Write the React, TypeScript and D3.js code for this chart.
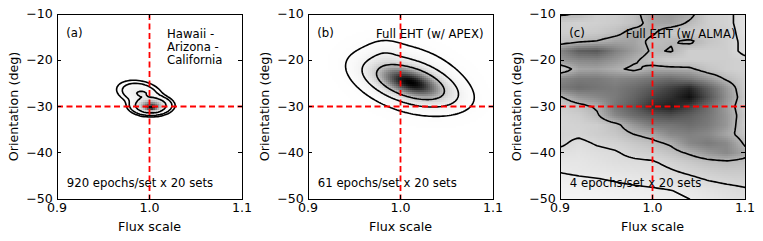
import React, { useEffect, useRef } from "react";
import * as d3 from "d3";

const WIDTH = 763;
const HEIGHT = 241;
const TOP = 14;
const SIZE = 185;
const CELL = 2;
const PAD = 3;

const xDomain = [0.9, 1.1];
const yDomain = [-50, -10];
const xTicks = [0.9, 1.0, 1.1];
const yTicks = [-10, -20, -30, -40, -50];
const refFlux = 1.0;
const refAngle = -30;

// gaussian pieces: [flux, angle, sdFlux, sdAngle, rho, amp]
const blobsA = [
  [1.0015, -29.8, 0.0095, 0.89, 0, 0.7],
  [1.002, -30.3, 0.004, 0.4, 0, 0.5],
  [0.989, -27.0, 0.012, 1.3, -0.25, 0.13],
  [0.992, -27.2, 0.0045, 0.4, 0, 0.075],
];
const levelsA = [0.016, 0.04, 0.158];

const blobsB = [
  [1.0114, -24.92, 0.02707, 2.642, -0.526, 1],
  [1.0092, -24.05, 0.03775, 4.72, -0.329, 0.35],
  [0.983, -18.5, 0.011, 1.8, 0, 0.08],
];
const levelsB = [0.1, 0.29, 0.615];

// panel (c) density, rows from -10 down to -50 deg, columns 0.90 .. 1.10
const gridCx = [0.9, 0.92, 0.94, 0.96, 0.98, 1.0, 1.02, 1.04, 1.06, 1.08, 1.1];
const gridCy = [-10, -12, -14, -16, -18, -20, -22, -24, -26, -28, -30, -32, -34, -36, -38, -40, -42, -44, -46, -48, -50];
const gridC = [
  [0.42, 0.4, 0.3, 0.3, 0.36, 0.48, 0.5, 0.44, 0.3, 0.28, 0.2],
  [0.3, 0.28, 0.29, 0.31, 0.35, 0.45, 0.46, 0.38, 0.3, 0.28, 0.2],
  [0.3, 0.3, 0.32, 0.36, 0.45, 0.42, 0.32, 0.3, 0.3, 0.3, 0.2],
  [0.34, 0.38, 0.41, 0.46, 0.46, 0.36, 0.39, 0.43, 0.34, 0.3, 0.22],
  [0.55, 0.7, 0.72, 0.58, 0.48, 0.38, 0.41, 0.3, 0.3, 0.3, 0.22],
  [0.5, 0.55, 0.56, 0.5, 0.42, 0.34, 0.3, 0.3, 0.3, 0.3, 0.28],
  [0.3, 0.45, 0.46, 0.42, 0.37, 0.45, 0.44, 0.43, 0.34, 0.3, 0.28],
  [0.55, 0.6, 0.6, 0.56, 0.58, 0.62, 0.65, 0.6, 0.5, 0.38, 0.3],
  [0.6, 0.65, 0.62, 0.6, 0.65, 0.72, 0.8, 0.88, 0.7, 0.5, 0.3],
  [0.38, 0.5, 0.55, 0.6, 0.68, 0.78, 0.85, 0.95, 0.75, 0.52, 0.32],
  [0.3, 0.35, 0.42, 0.62, 0.72, 0.85, 0.9, 0.8, 0.65, 0.48, 0.3],
  [0.28, 0.3, 0.38, 0.55, 0.65, 0.72, 0.75, 0.7, 0.62, 0.5, 0.32],
  [0.27, 0.28, 0.3, 0.36, 0.5, 0.6, 0.62, 0.65, 0.6, 0.5, 0.3],
  [0.28, 0.27, 0.3, 0.33, 0.4, 0.45, 0.55, 0.58, 0.55, 0.45, 0.33],
  [0.27, 0.22, 0.26, 0.28, 0.32, 0.36, 0.42, 0.55, 0.6, 0.55, 0.38],
  [0.22, 0.2, 0.22, 0.24, 0.28, 0.3, 0.35, 0.42, 0.5, 0.55, 0.45],
  [0.18, 0.18, 0.2, 0.22, 0.23, 0.24, 0.28, 0.32, 0.36, 0.38, 0.36],
  [0.155, 0.17, 0.18, 0.19, 0.2, 0.21, 0.24, 0.27, 0.3, 0.32, 0.32],
  [0.12, 0.13, 0.14, 0.155, 0.17, 0.18, 0.2, 0.22, 0.25, 0.27, 0.28],
  [0.1, 0.1, 0.11, 0.12, 0.13, 0.14, 0.15, 0.17, 0.2, 0.22, 0.24],
  [0.08, 0.08, 0.09, 0.1, 0.11, 0.12, 0.13, 0.15, 0.17, 0.2, 0.22],
];
const levelsC = [0.15, 0.25, 0.4];

const panelTags = ["(a)", "(b)", "(c)"];
const panelTitles = [["Hawaii -", "Arizona -", "California"], ["Full EHT (w/ APEX)"], ["Full EHT (w/ ALMA)"]];
const panelNotes = ["920 epochs/set x 20 sets", "61 epochs/set x 20 sets", "4 epochs/set x 20 sets"];

function blobSum(blobs: number[][]) {
  return (xv: number, yv: number) => {
    let s = 0;
    for (const [cx, cy, sx, sy, rho, amp] of blobs) {
      const u = (xv - cx) / sx;
      const v = (yv - cy) / sy;
      const q = (u * u - 2 * rho * u * v + v * v) / (1 - rho * rho);
      s += amp * Math.exp(-q / 2);
    }
    return s;
  };
}

const colIdx = d3.scaleLinear().domain([gridCx[0], gridCx[gridCx.length - 1]]).range([0, gridCx.length - 1]).clamp(true);
const rowIdx = d3.scaleLinear().domain([gridCy[0], gridCy[gridCy.length - 1]]).range([0, gridCy.length - 1]).clamp(true);

// bilinear read of the (c) grid
function gridSample(xv: number, yv: number) {
  const fx = colIdx(xv);
  const fy = rowIdx(yv);
  const i0 = Math.min(Math.floor(fx), gridCx.length - 2);
  const j0 = Math.min(Math.floor(fy), gridCy.length - 2);
  const tx = fx - i0;
  const ty = fy - j0;
  const top = gridC[j0][i0] * (1 - tx) + gridC[j0][i0 + 1] * tx;
  const bot = gridC[j0 + 1][i0] * (1 - tx) + gridC[j0 + 1][i0 + 1] * tx;
  return top * (1 - ty) + bot * ty;
}

const panels = [
  { left: 57, sample: blobSum(blobsA), levels: levelsA, gamma: 1, vmax: 0 },
  { left: 308, sample: blobSum(blobsB), levels: levelsB, gamma: 1.4, vmax: 0 },
  { left: 560, sample: gridSample, levels: levelsC, gamma: 1, vmax: 1 },
];

const fmtY = (v: number) => (v < 0 ? "\u2212" : "") + Math.abs(v);

function drawPanel(svg: any, p: any, k: number) {
  const x = d3.scaleLinear().domain(xDomain).range([0, SIZE]);
  const y = d3.scaleLinear().domain(yDomain).range([SIZE, 0]);
  const g = svg.append("g").attr("transform", `translate(${p.left},${TOP})`);

  const clipId = `plotclip${k}`;
  g.append("clipPath").attr("id", clipId).append("rect").attr("width", SIZE).attr("height", SIZE);

  // sample density on a fine grid (padded so contours don't close along the frame)
  const n = Math.ceil(SIZE / CELL) + 2 * PAD;
  const values: number[] = new Array(n * n);
  for (let j = 0; j < n; j++) {
    for (let i = 0; i < n; i++) {
      const px = (i - PAD + 0.5) * CELL;
      const py = (j - PAD + 0.5) * CELL;
      values[j * n + i] = p.sample(x.invert(px), y.invert(py));
    }
  }
  const vmax = p.vmax || (d3.max(values) as number);

  const plot = g.append("g").attr("clip-path", `url(#${clipId})`);
  plot.append("rect").attr("width", SIZE).attr("height", SIZE).attr("fill", "#fff");

  const cells: { i: number; j: number; t: number }[] = [];
  for (let j = PAD; j < n - PAD; j++) {
    for (let i = PAD; i < n - PAD; i++) {
      const t = Math.pow(Math.max(0, values[j * n + i] / vmax), p.gamma);
      if (t > 0.004) cells.push({ i, j, t });
    }
  }
  plot
    .append("g")
    .attr("shape-rendering", "crispEdges")
    .selectAll("rect")
    .data(cells)
    .enter()
    .append("rect")
    .attr("x", (d: any) => (d.i - PAD) * CELL)
    .attr("y", (d: any) => (d.j - PAD) * CELL)
    .attr("width", CELL + 0.4)
    .attr("height", CELL + 0.4)
    .attr("fill", (d: any) => d3.interpolateGreys(Math.min(1, d.t)));

  const contours = d3.contours().size([n, n]).thresholds(p.levels)(values);
  const path = d3.geoPath(
    d3.geoTransform({
      point(px: number, py: number) {
        (this as any).stream.point((px - PAD) * CELL, (py - PAD) * CELL);
      },
    })
  );
  plot
    .append("g")
    .selectAll("path")
    .data(contours)
    .enter()
    .append("path")
    .attr("d", (d: any) => path(d))
    .attr("fill", "none")
    .attr("stroke", "#000")
    .attr("stroke-width", 1.6)
    .attr("stroke-linejoin", "round");

  // annotations
  const ann = g.append("g").attr("font-size", 11.7).attr("fill", "#000");
  ann.append("text").attr("x", 9.3).attr("y", 23).text(panelTags[k]);
  panelTitles[k].forEach((line, li) => {
    const t = ann.append("text").attr("y", 23.5 + li * 13.4).text(line);
    if (k === 0) t.attr("x", 110);
    else t.attr("x", SIZE - 9.5).attr("text-anchor", "end");
  });
  ann.append("text").attr("x", 9.8).attr("y", 173).text(panelNotes[k]);

  // reference cross
  const dash = "6,3.5";
  g.append("line")
    .attr("x1", x(refFlux)).attr("x2", x(refFlux))
    .attr("y1", 0).attr("y2", SIZE)
    .attr("stroke", "#ff0000").attr("stroke-width", 1.8).attr("stroke-dasharray", dash);
  g.append("line")
    .attr("x1", 0).attr("x2", SIZE)
    .attr("y1", y(refAngle)).attr("y2", y(refAngle))
    .attr("stroke", "#ff0000").attr("stroke-width", 1.8).attr("stroke-dasharray", dash);

  // frame and inward ticks
  g.append("rect")
    .attr("width", SIZE).attr("height", SIZE)
    .attr("fill", "none").attr("stroke", "#000").attr("stroke-width", 1)
    .attr("shape-rendering", "crispEdges");
  const ticks = g.append("g").attr("stroke", "#000").attr("stroke-width", 1).attr("shape-rendering", "crispEdges");
  yTicks.forEach((v) => {
    ticks.append("line").attr("x1", 0).attr("x2", 4).attr("y1", y(v)).attr("y2", y(v));
    ticks.append("line").attr("x1", SIZE - 4).attr("x2", SIZE).attr("y1", y(v)).attr("y2", y(v));
  });
  xTicks.forEach((v) => {
    ticks.append("line").attr("x1", x(v)).attr("x2", x(v)).attr("y1", SIZE).attr("y2", SIZE - 4);
    ticks.append("line").attr("x1", x(v)).attr("x2", x(v)).attr("y1", 0).attr("y2", 4);
  });

  const lab = g.append("g").attr("font-size", 12.6).attr("fill", "#000");
  yTicks.forEach((v) => {
    lab.append("text").attr("x", -4.3).attr("y", y(v) + 4).attr("text-anchor", "end").text(fmtY(v));
  });
  xTicks.forEach((v) => {
    lab.append("text").attr("x", x(v)).attr("y", SIZE + 13).attr("text-anchor", "middle").text(v.toFixed(1));
  });

  g.append("text")
    .attr("x", SIZE / 2).attr("y", SIZE + 31.5)
    .attr("text-anchor", "middle").attr("font-size", 12.7)
    .text("Flux scale");
  g.append("text")
    .attr("transform", `translate(-39,${SIZE / 2}) rotate(-90)`)
    .attr("text-anchor", "middle").attr("font-size", 12.7)
    .text("Orientation (deg)");
}

export default function App() {
  const ref = useRef<SVGSVGElement>(null);

  useEffect(() => {
    const svg = d3.select(ref.current);
    svg.selectAll("*").remove();
    panels.forEach((p, k) => drawPanel(svg, p, k));
  }, []);

  return (
    <svg
      ref={ref}
      width={WIDTH}
      height={HEIGHT}
      style={{ position: "absolute", left: 0, top: 0, background: "#fff" }}
      fontFamily="DejaVu Sans"
    />
  );
}
